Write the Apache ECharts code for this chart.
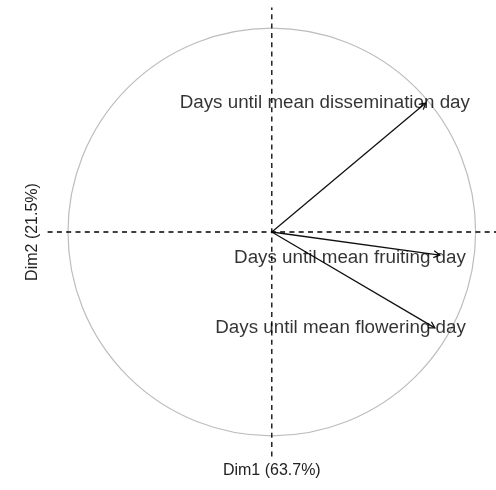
<!DOCTYPE html>
<html>
<head>
<meta charset="utf-8">
<script src="https://cdn.jsdelivr.net/npm/echarts@6/dist/echarts.min.js"></script>
<style>
  html, body { margin: 0; padding: 0; background: #fff; }
  #chart { width: 496px; height: 490px; }
</style>
</head>
<body>
<div id="chart"></div>
<script>
// variables correlation circle (PCA)
var varNames = ['Days until mean dissemination day', 'Days until mean fruiting day', 'Days until mean flowering day'];
var dim1 = [0.755, 0.824, 0.80];   // coord on Dim1
var dim2 = [0.632, -0.113, -0.47]; // coord on Dim2
var labelX = [0.972, 0.952, 0.952]; // right edge of each label
var labelY = [0.632, -0.126, -0.468];
var dimTitles = ['Dim1 (63.7%)', 'Dim2 (21.5%)'];
var axisExtent = [-1.1, 1.1];

var chart = echarts.init(document.getElementById('chart'));

var arrowData = dim1.map(function (v, i) { return [v, dim2[i]]; });
var labelData = labelX.map(function (v, i) { return { value: [v, labelY[i]], name: varNames[i] }; });

var option = {
    animation: false,
    grid: {
        left: 47.6,
        top: 7.6,
        width: 448.8,
        height: 448.8
    },
    xAxis: {
        type: 'value',
        min: axisExtent[0],
        max: axisExtent[1],
        name: dimTitles[0],
        nameLocation: 'middle',
        nameGap: 6,
        nameTextStyle: { fontFamily: 'Liberation Sans', fontSize: 16, color: '#222', verticalAlign: 'top' },
        axisLine: { show: false, onZero: false },
        axisTick: { show: false },
        axisLabel: { show: false },
        splitLine: { show: false }
    },
    yAxis: {
        type: 'value',
        min: axisExtent[0],
        max: axisExtent[1],
        name: dimTitles[1],
        nameLocation: 'middle',
        nameGap: 7,
        nameTextStyle: { fontFamily: 'Liberation Sans', fontSize: 16, color: '#222' },
        axisLine: { show: false, onZero: false },
        axisTick: { show: false },
        axisLabel: { show: false },
        splitLine: { show: false }
    },
    series: [
        {
            // unit circle
            type: 'custom',
            silent: true,
            data: [[0, 0, 1]],
            renderItem: function (params, api) {
                var c = api.coord([api.value(0), api.value(1)]);
                var r = api.size([api.value(2), 0])[0];
                return {
                    type: 'circle',
                    shape: { cx: c[0], cy: c[1], r: r },
                    style: { fill: 'none', stroke: '#bdbdbd', lineWidth: 1.2 }
                };
            }
        },
        {
            // dashed axes through origin
            type: 'line',
            silent: true,
            symbol: 'none',
            data: [[axisExtent[0], 0], [axisExtent[1], 0]],
            lineStyle: { color: '#000', width: 1.3, type: [5, 4.3] }
        },
        {
            type: 'line',
            silent: true,
            symbol: 'none',
            data: [[0, axisExtent[0]], [0, axisExtent[1]]],
            lineStyle: { color: '#000', width: 1.3, type: [5, 4.3] }
        },
        {
            // arrows
            type: 'custom',
            silent: true,
            data: arrowData,
            renderItem: function (params, api) {
                var o = api.coord([0, 0]);
                var p = api.coord([api.value(0), api.value(1)]);
                var ang = Math.atan2(p[1] - o[1], p[0] - o[0]);
                var len = 7, spread = Math.PI / 6;
                var h1 = [p[0] - len * Math.cos(ang - spread), p[1] - len * Math.sin(ang - spread)];
                var h2 = [p[0] - len * Math.cos(ang + spread), p[1] - len * Math.sin(ang + spread)];
                var st = { stroke: '#111', lineWidth: 1.3, fill: 'none' };
                return {
                    type: 'group',
                    children: [
                        { type: 'line', shape: { x1: o[0], y1: o[1], x2: p[0], y2: p[1] }, style: st },
                        { type: 'polyline', shape: { points: [h1, p, h2] }, style: st }
                    ]
                };
            }
        },
        {
            // variable labels
            type: 'scatter',
            silent: true,
            symbolSize: 0,
            data: labelData,
            label: {
                show: true,
                position: 'inside',
                formatter: '{b}',
                align: 'right',
                verticalAlign: 'middle',
                fontFamily: 'Liberation Sans',
                fontSize: 18.8,
                color: '#000'
            }
        }
    ]
};
chart.setOption(option);
</script>
</body>
</html>
